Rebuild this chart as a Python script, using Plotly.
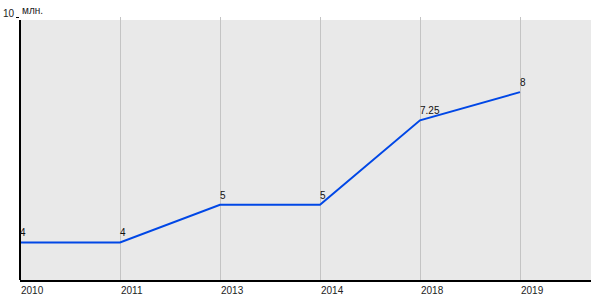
import plotly.graph_objects as go

years = ["2010", "2011", "2013", "2014", "2018", "2019"]
values = [4, 4, 5, 5, 7.25, 8]
labels = ["4", "4", "5", "5", "7.25", "8"]
y_ticks = [10]
y_tick_text = ["10"]
unit = "млн."

fig = go.Figure()
fig.add_trace(go.Scatter(
    x=list(range(len(years))), y=values, mode="lines",
    line=dict(color="#0047e6", width=2),
    cliponaxis=False, hoverinfo="skip",
))

for i, (v, t) in enumerate(zip(values, labels)):
    fig.add_annotation(x=i, y=v, text=t, showarrow=False,
                       xanchor="left", yanchor="bottom", xshift=-2, yshift=2,
                       font=dict(family="Arial, Liberation Sans", size=10, color="#111111"))

fig.add_annotation(x=0, xref="paper", y=1, yref="paper", text=unit,
                   showarrow=False, xanchor="left", yanchor="bottom",
                   xshift=0, yshift=-1,
                   font=dict(family="Arial, Liberation Sans", size=10, color="#222222"))

# plot background slightly below the top gridline, as in the reference
fig.add_shape(type="rect", xref="paper", x0=0, x1=1, yref="y", y0=3, y1=9.92,
              fillcolor="#e9e9e9", line=dict(width=0), layer="below")
fig.add_shape(type="line", xref="paper", x0=0, x1=0, yref="y", y0=3, y1=9.92,
              line=dict(color="black", width=2))

fig.update_layout(
    width=600, height=300,
    margin=dict(l=20, r=9, t=17, b=20),
    paper_bgcolor="white", plot_bgcolor="white",
    showlegend=False,
    font=dict(family="Arial, Liberation Sans", size=10, color="#222222"),
    xaxis=dict(
        range=[0, 5.71], tickvals=list(range(len(years))), ticktext=years,
        showgrid=True, gridcolor="#c4c4c4", gridwidth=1,
        showline=True, linecolor="black", linewidth=2,
        ticks="", ticklabelposition="outside right",
        tickfont=dict(size=10, color="#222222"), zeroline=False,
        automargin=False,
    ),
    yaxis=dict(
        range=[3, 10], tickvals=y_ticks, ticktext=y_tick_text,
        showgrid=True, gridcolor="#c4c4c4",
        showline=False,
        ticks="outside", ticklen=3, tickcolor="black",
        ticklabelshift=-4,
        tickfont=dict(size=10, color="#222222"), zeroline=False,
        automargin=False,
    ),
)

fig.write_html("out.html")
